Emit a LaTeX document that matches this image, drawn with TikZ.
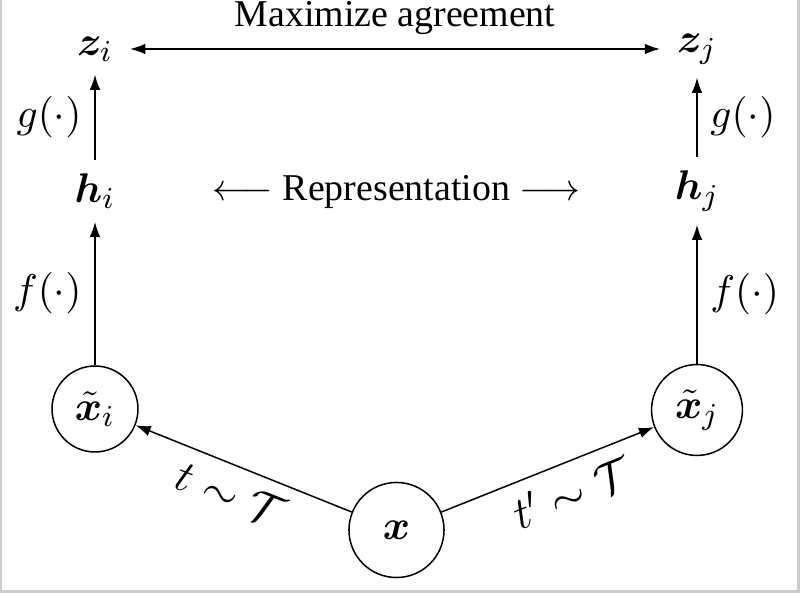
\documentclass[tikz,border=0pt]{standalone}
\usepackage{amsmath, amssymb}
\usepackage{bm}
\usepackage{fontspec}
\setmainfont{Liberation Serif}
\usetikzlibrary{arrows.meta, positioning}

\tikzset{
    mfont/.style={font=\fontsize{11}{13}\selectfont},
    view/.style={draw, circle, inner sep=0pt, mfont},
    tlabel/.style={sloped, below, font=\large},
}

\begin{document}
\begin{tikzpicture}[x=0.264pt, y=-0.264pt, >={Latex[length=4pt, width=2.8pt]}]
    \useasboundingbox (0,0) rectangle (800,593);
    % Frame of the figure
    \draw[gray!40, line width=0.8pt] (0.8,0) -- (0.8,591.5) -- (798.2,591.5) -- (798.2,0);

    % Input and its two augmented views
    \node[view, minimum size=25.1pt] (x) at (396.5,530) {$\bm{x}$};
    \node[view, minimum size=22.7pt] (xi) at (95,409) {$\bm{\tilde{x}}_i$};
    \node[view, minimum size=24pt] (xj) at (697,410) {$\bm{\tilde{x}}_j$};

    % Representations and projections
    \node[mfont] (hi) at (95,191) {$\bm{h}_i$};
    \node[mfont] (hj) at (697,191) {$\bm{h}_j$};
    \node[mfont] (zi) at (95,49) {$\bm{z}_i$};
    \node[mfont] (zj) at (697,49) {$\bm{z}_j$};

    % Texts
    \node (agree) at (395,18) {Maximize agreement};
    \node (repr) at (396.5,192) {$\longleftarrow$ Representation $\longrightarrow$};

    % Augmentations
    \draw[->] (x) -- node[tlabel, pos=0.51] {$t \sim \mathcal{T}$} (xi);
    \draw[->] (x) -- node[tlabel, pos=0.56] {$t' \sim \mathcal{T}$} (xj);

    % Encoder f and projection head g
    \draw[->] (xi) -- node[left, mfont] {$f(\cdot)$} (hi);
    \draw[->] (xj) -- node[right, mfont] {$f(\cdot)$} (hj);
    \draw[->] (hi) -- node[left, mfont] {$g(\cdot)$} (zi);
    \draw[->] (hj) -- node[right, mfont] {$g(\cdot)$} (zj);

    % Agreement between projections
    \draw[<->, shorten <=1pt, shorten >=1pt] (zi) -- (zj);
\end{tikzpicture}
\end{document}
